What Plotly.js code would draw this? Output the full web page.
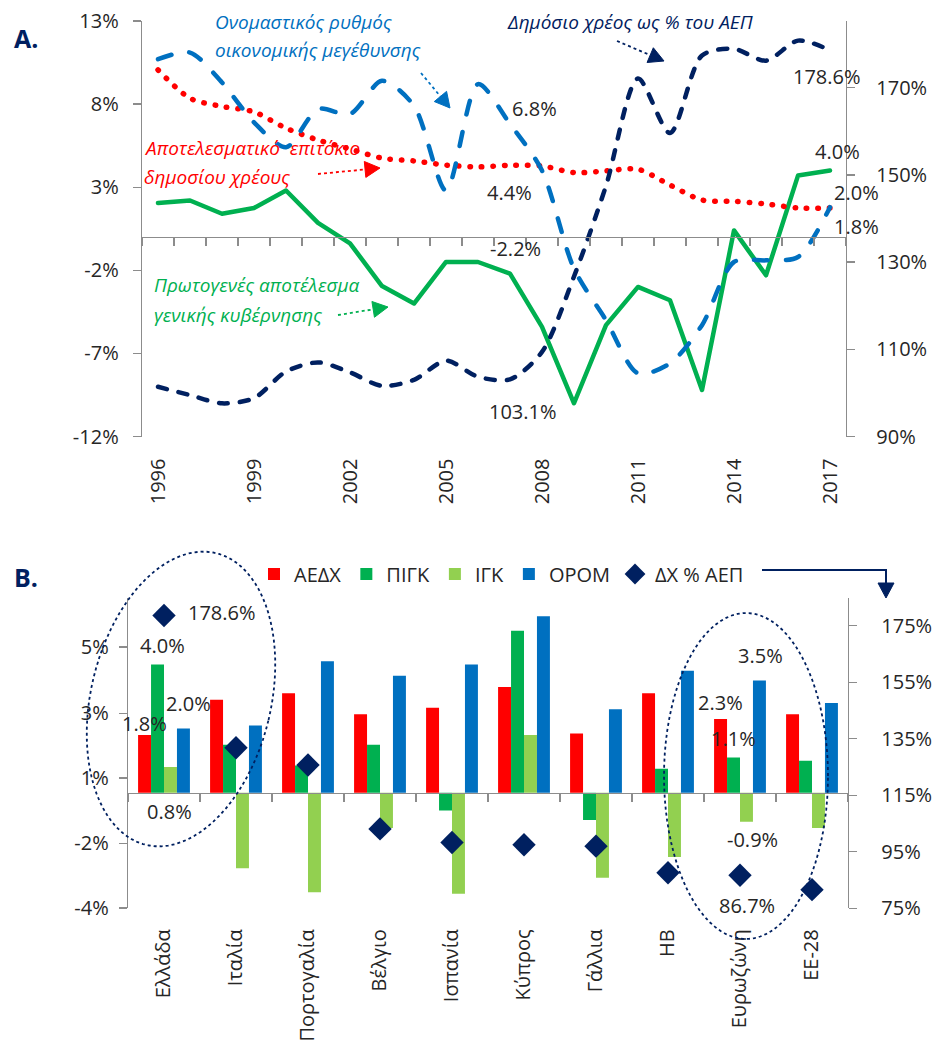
<!DOCTYPE html>
<html><head><meta charset="utf-8">
<script src="https://cdn.plot.ly/plotly-3.0.1.min.js"></script>
<style>html,body{margin:0;padding:0;background:#fff}#chart{width:932px;height:1058px}</style>
</head><body><div id="chart"></div>
<script>
// ---------- DATA: Panel A ----------
const years = [1996,1997,1998,1999,2000,2001,2002,2003,2004,2005,2006,2007,2008,2009,2010,2011,2012,2013,2014,2015,2016,2017];
const nominalGrowth   = [10.7,11.1,9.3,6.9,5.4,7.7,7.4,9.4,7.9,2.8,9.2,6.8,4.0,-1.9,-5.0,-8.2,-7.6,-5.3,-1.5,-1.4,-1.2,1.8];
const effectiveRate   = [10.06,8.35,7.86,7.53,6.55,5.84,5.3,4.75,4.58,4.33,4.22,4.32,4.28,3.88,3.98,4.08,3.13,2.23,2.15,1.99,1.75,1.75];
const primaryBalance  = [2.05,2.2,1.4,1.75,2.8,0.85,-0.38,-2.95,-4.0,-1.5,-1.5,-2.2,-5.4,-10.0,-5.3,-3.0,-3.8,-9.2,0.4,-2.3,3.7,4.0];
const debtRatio       = [101.4,99.5,97.6,98.8,104.9,107.0,104.7,101.6,103.0,107.4,103.7,103.1,109.4,126.7,147.5,172.1,159.6,177.4,178.9,176.2,180.8,178.6];
const yearTickLabels  = [1996,1999,2002,2005,2008,2011,2014,2017];
const leftTicksA      = [-12,-7,-2,3,8,13];
const rightTicksA     = [90,110,130,150,170];

// ---------- DATA: Panel B ----------
const countries = ['Ελλάδα','Ιταλία','Πορτογαλία','Βέλγιο','Ισπανία','Κύπρος','Γάλλια','ΗΒ','Ευρωζώνη','ΕΕ-28'];
const aedx = [1.8,2.9,3.1,2.45,2.65,3.3,1.85,3.1,2.3,2.45];
const pigk = [4.0,1.5,0.85,1.5,-0.55,5.05,-0.85,0.75,1.1,1.0];
const igk  = [0.8,-2.35,-3.1,-1.1,-3.15,1.8,-2.65,-2.0,-0.9,-1.1];
const orom = [2.0,2.1,4.1,3.65,4.0,5.5,2.6,3.8,3.5,2.8];
const debtB = [178.6,131.8,125.7,103.1,98.3,97.5,97.0,87.6,86.7,81.6];
const leftTickPosB  = [4.54,2.48,0.46,-1.57,-3.59];
const leftTickTextB = ['5%','3%','1%','-2%','-4%'];
const rightTicksB   = [75,95,115,135,155,175];

// ---------- LAYOUT HELPERS ----------
const W = 932, H = 1058;
const px = x => x / W, py = y => 1 - y / H;
const pct = v => String(v) + '%';
const FONT = 'Open Sans, Noto Sans, sans-serif';
const TXT = '#262626', AX = '#8c8c8c';
const NAVY = '#002060', BLUE = '#0070C0', RED = '#FF0000', GREEN = '#00B050', LGREEN = '#92D050';

const domAx = [px(142), px(846)], domAy = [py(436.5), py(21)];
const rangeAy = [-12, 13], rangeAy2 = [90, 185.3];
const zeroA = domAy[0] + (0 - rangeAy[0]) / (rangeAy[1] - rangeAy[0]) * (domAy[1] - domAy[0]);
const boundsA = years.map(y => y - 0.5).concat([years[years.length - 1] + 0.5]);

const domBx = [px(128), px(848)], domBy = [py(908.3), py(598)];
const rangeBy = [-3.60, 6.07], rangeBy2 = [75, 184.8];
const zeroB = domBy[0] + (0 - rangeBy[0]) / (rangeBy[1] - rangeBy[0]) * (domBy[1] - domBy[0]);

const tickFont = {family: FONT, size: 20, color: TXT};

// ---------- TRACES ----------
const traces = [
  {x: years, y: primaryBalance, xaxis: 'x', yaxis: 'y', type: 'scatter', mode: 'lines',
   line: {color: GREEN, width: 4.5}, showlegend: false, name: 'ΠΙΓΚ'},
  {x: years, y: effectiveRate, xaxis: 'x', yaxis: 'y', type: 'scatter', mode: 'lines',
   line: {color: RED, width: 5.5, dash: '0.5px,11px', shape: 'spline', smoothing: 0.8}, showlegend: false, name: 'red'},
  {x: years, y: nominalGrowth, xaxis: 'x2', yaxis: 'y', type: 'scatter', mode: 'lines',
   line: {color: BLUE, width: 4.5, dash: '14px,18px', shape: 'spline', smoothing: 0.8}, showlegend: false, name: 'blue'},
  {x: years, y: debtRatio, xaxis: 'x', yaxis: 'y2', type: 'scatter', mode: 'lines',
   line: {color: NAVY, width: 4.5, dash: '9px,12px', shape: 'spline', smoothing: 0.8}, showlegend: false, name: 'navy'},

  {x: countries, y: aedx, xaxis: 'x3', yaxis: 'y3', type: 'bar', name: 'ΑΕΔΧ', marker: {color: RED}},
  {x: countries, y: pigk, xaxis: 'x3', yaxis: 'y3', type: 'bar', name: 'ΠΙΓΚ', marker: {color: GREEN}},
  {x: countries, y: igk,  xaxis: 'x3', yaxis: 'y3', type: 'bar', name: 'ΙΓΚ',  marker: {color: LGREEN}},
  {x: countries, y: orom, xaxis: 'x3', yaxis: 'y3', type: 'bar', name: 'ΟΡΟΜ', marker: {color: BLUE}},
  {x: countries, y: debtB, xaxis: 'x4', yaxis: 'y4', type: 'scatter', mode: 'markers', name: 'ΔΧ % ΑΕΠ',
   marker: {symbol: 'diamond', size: 18, color: NAVY}}
];

// ---------- SHAPES ----------
function ellipse(cx, cy, a, b, angDeg) {
  const t = angDeg * Math.PI / 180; let d = '';
  for (let i = 0; i <= 90; i++) {
    const th = i / 90 * 2 * Math.PI, u = b * Math.cos(th), v = a * Math.sin(th);
    const x = cx + u * Math.cos(t) + v * Math.sin(t), y = cy + u * Math.sin(t) - v * Math.cos(t);
    d += (i ? ' L' : 'M') + px(x).toFixed(5) + ',' + py(y).toFixed(5);
  }
  return {type: 'path', xref: 'paper', yref: 'paper', path: d + ' Z', line: {color: NAVY, width: 1.8, dash: 'dot'}};
}
function arrow(x0, y0, x1, y1, color, len, half) {
  const dx = x1 - x0, dy = y1 - y0, L = Math.hypot(dx, dy), ux = dx / L, uy = dy / L;
  const bx = x1 - ux * len, by = y1 - uy * len;
  const p1 = [bx - uy * half, by + ux * half], p2 = [bx + uy * half, by - ux * half];
  return [
    {type: 'line', xref: 'paper', yref: 'paper', x0: px(x0), y0: py(y0), x1: px(bx), y1: py(by), line: {color: color, width: 1.8, dash: 'dot'}},
    {type: 'path', xref: 'paper', yref: 'paper', fillcolor: color, line: {color: color, width: 1},
     path: 'M' + px(x1) + ',' + py(y1) + ' L' + px(p1[0]) + ',' + py(p1[1]) + ' L' + px(p2[0]) + ',' + py(p2[1]) + ' Z'}
  ];
}
const shapes = [].concat(
  arrow(421, 73, 450, 108, BLUE, 15, 8),
  arrow(617, 41, 664, 61, NAVY, 15, 8),
  arrow(318, 174, 380, 168, RED, 15, 8),
  arrow(338, 315, 388, 307, GREEN, 15, 8),
  [ellipse(181, 699, 150, 90, 13.5), ellipse(746, 776, 163, 82, 0),
   {type: 'path', xref: 'paper', yref: 'paper', line: {color: NAVY, width: 2},
    path: 'M' + px(762) + ',' + py(570) + ' L' + px(886) + ',' + py(570) + ' L' + px(886) + ',' + py(586)},
   {type: 'path', xref: 'paper', yref: 'paper', fillcolor: NAVY, line: {color: NAVY, width: 1},
    path: 'M' + px(886) + ',' + py(598) + ' L' + px(878) + ',' + py(583) + ' L' + px(894) + ',' + py(583) + ' Z'}]
);

// ---------- ANNOTATIONS ----------
function lab(text, x, y, opts) {
  return Object.assign({text: text, xref: 'paper', yref: 'paper', x: px(x), y: py(y), showarrow: false,
    xanchor: 'center', yanchor: 'middle', font: {family: FONT, size: 20, color: TXT}}, opts || {});
}
function ital(text, x, y, color) {
  return lab(text, x, y, {xanchor: 'left', font: {family: FONT, size: 19, color: color, style: 'italic'}});
}
const annotations = [
  lab('<b>A.</b>', 26, 38, {font: {family: FONT, size: 25, color: NAVY}}),
  lab('<b>B.</b>', 26, 577, {font: {family: FONT, size: 25, color: NAVY}}),
  ital('Ονομαστικός ρυθμός', 213, 22, BLUE),
  ital('οικονομικής μεγέθυνσης', 213, 50, BLUE),
  ital('Δημόσιο χρέος ως % του ΑΕΠ', 505, 22, NAVY),
  ital('Αποτελεσματικό  επιτόκιο', 142, 148, RED),
  ital('δημοσίου χρέους', 142, 177, RED),
  ital('Πρωτογενές αποτέλεσμα', 152, 285, GREEN),
  ital('γενικής κυβέρνησης', 152, 315, GREEN),
  lab('6.8%', 534, 109), lab('4.4%', 510, 193), lab('-2.2%', 515, 248), lab('103.1%', 523, 411),
  lab('178.6%', 827, 76), lab('4.0%', 837, 151), lab('2.0%', 856, 193), lab('1.8%', 856, 226),
  lab('178.6%', 222, 612), lab('4.0%', 162, 646), lab('2.0%', 188, 703), lab('1.8%', 144, 723), lab('0.8%', 169, 811),
  lab('3.5%', 760, 655), lab('2.3%', 720, 702), lab('1.1%', 733, 738), lab('-0.9%', 752, 839), lab('86.7%', 747, 905)
];

// ---------- AXES ----------
const baseAxis = {showgrid: false, zeroline: false, automargin: false, tickfont: tickFont, fixedrange: true};
const layout = {
  width: W, height: H, autosize: false, margin: {l: 0, r: 0, t: 0, b: 0},
  paper_bgcolor: '#fff', plot_bgcolor: 'rgba(0,0,0,0)', font: {family: FONT, color: TXT},
  barmode: 'group', bargap: 0.28, bargroupgap: 0,
  showlegend: true,
  legend: {orientation: 'h', x: px(254), y: py(574), xanchor: 'left', yanchor: 'middle',
           font: {family: FONT, size: 20, color: TXT}, bgcolor: 'rgba(0,0,0,0)', itemwidth: 30, traceorder: 'normal'},
  xaxis: Object.assign({}, baseAxis, {domain: domAx, range: [1995.5, 2017.5], anchor: 'y', tickmode: 'array',
    tickvals: yearTickLabels, ticktext: yearTickLabels.map(String), tickangle: -90, ticks: '', showline: false, ticklabelstandoff: 17}),
  xaxis2: Object.assign({}, baseAxis, {domain: domAx, range: [1995.5, 2017.5], overlaying: 'x', anchor: 'free', position: zeroA,
    tickmode: 'array', tickvals: boundsA, showticklabels: false, ticks: 'outside', ticklen: 8, tickcolor: AX, tickwidth: 1.3,
    showline: true, linecolor: AX, linewidth: 1.3}),
  yaxis: Object.assign({}, baseAxis, {domain: domAy, range: rangeAy, anchor: 'x', tickmode: 'array', tickvals: leftTicksA,
    ticktext: leftTicksA.map(pct), ticks: 'outside', ticklen: 8, tickcolor: AX, tickwidth: 1.3, showline: true, linecolor: AX, linewidth: 1.3, ticklabelstandoff: 10}),
  yaxis2: Object.assign({}, baseAxis, {overlaying: 'y', side: 'right', anchor: 'x', range: rangeAy2, tickmode: 'array', tickvals: rightTicksA,
    ticktext: rightTicksA.map(pct), ticks: 'outside', ticklen: 8, tickcolor: AX, tickwidth: 1.3, showline: true, linecolor: AX, linewidth: 1.3, ticklabelstandoff: 17}),

  xaxis3: Object.assign({}, baseAxis, {domain: domBx, type: 'category', range: [-0.5, 9.5], anchor: 'y3', tickangle: -90, ticks: '',
    showline: false, ticklabelstandoff: 16}),
  xaxis4: Object.assign({}, baseAxis, {domain: domBx, type: 'category', range: [-0.5, 9.5], overlaying: 'x3', anchor: 'free', position: zeroB,
    showticklabels: false, ticks: 'outside', tickson: 'boundaries', ticklen: 8, tickcolor: AX, tickwidth: 1.3, showline: true, linecolor: AX, linewidth: 1.3}),
  yaxis3: Object.assign({}, baseAxis, {domain: domBy, range: rangeBy, anchor: 'x3', tickmode: 'array', tickvals: leftTickPosB, ticktext: leftTickTextB,
    ticks: 'outside', ticklen: 8, tickcolor: AX, tickwidth: 1.3, showline: true, linecolor: AX, linewidth: 1.3, ticklabelstandoff: 6}),
  yaxis4: Object.assign({}, baseAxis, {overlaying: 'y3', side: 'right', anchor: 'x3', range: rangeBy2, tickmode: 'array', tickvals: rightTicksB,
    ticktext: rightTicksB.map(pct), ticks: 'outside', ticklen: 8, tickcolor: AX, tickwidth: 1.3, showline: true, linecolor: AX, linewidth: 1.3, ticklabelstandoff: 20}),
  shapes: shapes, annotations: annotations
};

Plotly.newPlot('chart', traces, layout, {staticPlot: true, displayModeBar: false}).then(function () {
  document.querySelectorAll('.scatterlayer path.js-line').forEach(function (p) { p.style.strokeLinecap = 'round'; p.style.strokeLinejoin = 'round'; });
});
</script></body></html>
